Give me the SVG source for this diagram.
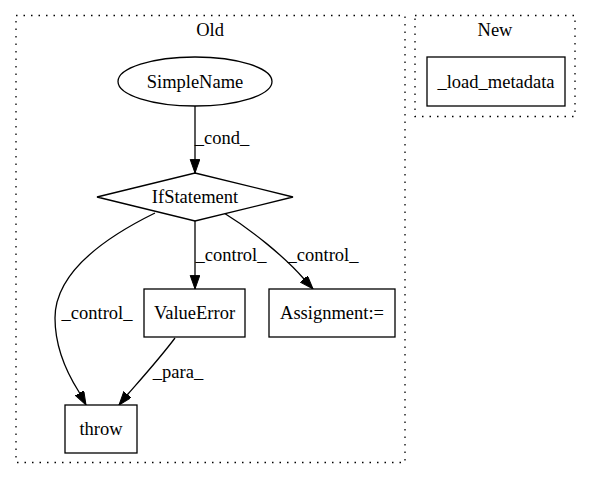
<svg xmlns="http://www.w3.org/2000/svg" width="592" height="480" viewBox="0 0 592 480">
<style>
.t{font-size:18.5px;fill:#000;text-anchor:middle}
.cl{fill:none;stroke:#000;stroke-width:1.3;stroke-dasharray:1.5,6}
.n{fill:#fff;stroke:#000;stroke-width:1.3}
.e{fill:none;stroke:#000;stroke-width:1.3}
</style>
<defs>
<marker id="ah" markerUnits="userSpaceOnUse" markerWidth="16" markerHeight="12" refX="13.6" refY="4.8" orient="auto">
<path d="M0,0 L13.6,4.8 L0,9.6 z" fill="#000" stroke="#000" stroke-width="1"/>
</marker>
</defs>
<rect width="592" height="480" fill="#fff"/>
<g font-family="Liberation Serif, serif">
<g id="cluster_old">
<rect class="cl" x="16" y="15.5" width="389" height="447"/>
<text class="t" x="210" y="36">Old</text>
</g>
<g id="cluster_new">
<rect class="cl" x="415" y="15.5" width="160" height="101"/>
<text class="t" x="495" y="36">New</text>
</g>
<g id="edges">
<path class="e" d="M195,106 L195,173" marker-end="url(#ah)"/>
<text class="t" x="222" y="144">_cond_</text>
<path class="e" d="M195,221 L195,289" marker-end="url(#ah)"/>
<text class="t" x="231" y="261">_control_</text>
<path class="e" d="M224,213 C250,229 284,256 304,279 L313,289" marker-end="url(#ah)"/>
<text class="t" x="323" y="261">_control_</text>
<path class="e" d="M155,213 C100,240 55,275 55,318 C55,345 65,370 79,392 L86,405" marker-end="url(#ah)"/>
<text class="t" x="97" y="319">_control_</text>
<path class="e" d="M175,338 C160,358 142,378 128,394 L119,405" marker-end="url(#ah)"/>
<text class="t" x="178" y="378">_para_</text>
</g>
<g id="SimpleName">
<ellipse class="n" cx="195" cy="81.5" rx="77" ry="24.5"/>
<text class="t" x="195" y="88">SimpleName</text>
</g>
<g id="IfStatement">
<polygon class="n" points="195,173 293,197 195,221 97,197"/>
<text class="t" x="195" y="203">IfStatement</text>
</g>
<g id="ValueError">
<rect class="n" x="144" y="289" width="101" height="48"/>
<text class="t" x="194.5" y="319">ValueError</text>
</g>
<g id="Assignment">
<rect class="n" x="269" y="289" width="126" height="48"/>
<text class="t" x="332" y="319">Assignment:=</text>
</g>
<g id="throw">
<rect class="n" x="65" y="405" width="72" height="48"/>
<text class="t" x="101" y="435">throw</text>
</g>
<g id="load_metadata">
<rect class="n" x="427" y="57" width="138" height="49"/>
<text class="t" x="496" y="88">_load_metadata</text>
</g>
</g>
</svg>
